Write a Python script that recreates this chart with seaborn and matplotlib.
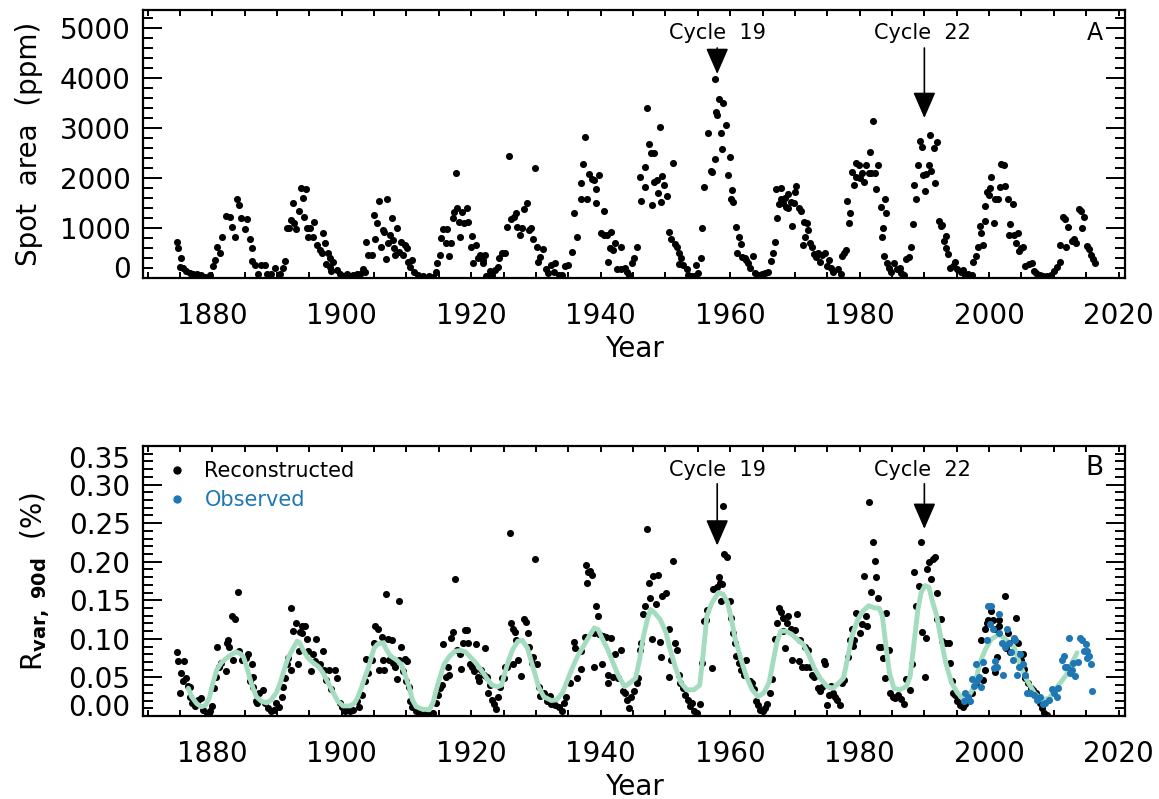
import numpy as np
import matplotlib
matplotlib.use("Agg")
import matplotlib.pyplot as plt
from matplotlib.lines import Line2D
from matplotlib.ticker import FixedLocator, MultipleLocator
import seaborn as sns

sns.set_theme(style="ticks")
plt.rcParams["font.family"] = ["DejaVu Sans"]
plt.rcParams["mathtext.fontset"] = "dejavusans"
plt.rcParams["text.color"] = "black"
plt.rcParams["axes.labelcolor"] = "black"

# ---- Panel A: sunspot area (ppm), one dot per 90-day bin ----
spot_year = [
    1874.5, 1874.7, 1875.2, 1875.0, 1875.5, 1876.0, 1876.5, 1877.0, 1877.6, 1878.2, 1878.8, 1879.6,
    1880.1, 1880.4, 1880.7, 1881.2, 1881.5, 1882.1, 1882.7, 1883.0, 1883.5, 1883.8, 1884.1, 1884.5, 1885.0, 1885.4, 1885.8, 1886.2, 1886.1, 1886.6, 1887.1, 1887.6, 1888.1, 1888.4, 1889.1, 1889.7, 1890.4, 1890.9, 1891.2,
    1891.5, 1891.9, 1892.4, 1892.2, 1892.7, 1892.9, 1893.4, 1893.7, 1894.0, 1894.4, 1894.2, 1894.6, 1894.8, 1895.1, 1895.6, 1895.7, 1896.1, 1896.6, 1897.0, 1897.1, 1897.4, 1897.9, 1898.2, 1898.7, 1897.6, 1898.2, 1898.3, 1899.2, 1899.7, 1900.2, 1900.8, 1901.3, 1901.8, 1902.3, 1902.8, 1903.3, 1903.6,
    1903.8, 1904.1, 1904.6, 1905.0, 1905.2, 1905.5, 1905.8, 1906.1, 1906.3, 1906.6, 1906.8, 1907.0, 1907.2, 1907.5, 1907.8, 1907.9, 1908.1, 1908.3, 1908.6, 1908.9, 1909.2, 1909.5, 1909.8, 1910.1, 1910.3, 1910.6, 1910.9, 1911.2, 1911.8, 1912.6, 1913.5, 1914.1,
    1914.5, 1914.7, 1915.2, 1915.3, 1915.7, 1916.1, 1916.3, 1916.6, 1916.8, 1917.2, 1917.4, 1917.6, 1917.8, 1918.1, 1918.3, 1918.6, 1918.9, 1919.3, 1919.5, 1919.9, 1920.1, 1920.3, 1920.8, 1921.0, 1921.4, 1921.8, 1922.2, 1921.8, 1922.3, 1922.9, 1923.2, 1923.7,
    1924.1, 1924.3, 1924.8, 1925.2, 1925.6, 1925.9, 1926.2, 1926.6, 1926.9, 1927.1, 1927.5, 1927.8, 1928.2, 1928.6, 1928.9, 1929.2, 1929.5, 1929.8, 1930.1, 1930.3, 1930.6, 1931.1, 1931.5, 1931.8, 1932.3, 1932.8, 1933.0, 1933.5, 1934.1, 1934.5, 1934.9,
    1935.5, 1935.8, 1936.4, 1937.0, 1937.5, 1937.3, 1937.0, 1937.9, 1938.2, 1938.6, 1938.9, 1939.3, 1939.2, 1939.8, 1940.5, 1940.0, 1940.5, 1940.9, 1941.6, 1941.4, 1942.2, 1941.9, 1943.1, 1941.2, 1942.5, 1943.1, 1943.8, 1944.0, 1944.3, 1944.8, 1945.2, 1945.6,
    1946.0, 1946.3, 1946.9, 1947.2, 1946.8, 1947.4, 1947.7, 1948.3, 1947.9, 1948.3, 1948.7, 1948.9, 1949.2, 1949.5, 1949.3, 1949.8, 1950.3, 1950.6, 1951.2, 1950.9, 1951.5, 1951.8, 1952.1, 1952.4, 1952.1, 1952.7, 1953.3, 1953.5, 1954.0, 1954.4, 1954.7, 1955.0,
    1955.5, 1955.7, 1956.0, 1956.6, 1957.0, 1957.2, 1957.6, 1957.6, 1957.8, 1958.0, 1958.2, 1958.6, 1958.9, 1958.8, 1959.4, 1959.6, 1959.9, 1960.2, 1960.5, 1960.3, 1960.9, 1961.3, 1961.7, 1961.1, 1961.9, 1962.3, 1962.5, 1962.8, 1963.1, 1963.6, 1963.8, 1964.3, 1964.9, 1965.4, 1965.9,
    1966.3, 1966.6, 1966.9, 1967.2, 1967.1, 1967.5, 1967.9, 1967.8, 1968.2, 1968.4, 1968.6, 1968.9, 1969.0, 1969.4, 1969.8, 1970.1, 1970.0, 1969.5, 1970.6, 1971.0, 1971.4, 1971.8, 1972.0, 1971.5, 1971.3, 1972.3, 1972.7, 1973.0, 1973.3, 1973.6, 1973.9, 1974.2, 1974.7, 1975.3, 1975.0, 1975.6, 1975.9, 1976.6, 1977.1,
    1977.2, 1977.6, 1977.9, 1978.1, 1978.3, 1978.5, 1978.8, 1979.1, 1979.4, 1979.5, 1979.9, 1980.1, 1980.4, 1980.7, 1981.0, 1981.4, 1981.6, 1982.0, 1981.7, 1982.4, 1982.6, 1982.9, 1983.3, 1983.6, 1983.9, 1984.0, 1983.5, 1983.8, 1984.3, 1984.6, 1984.9, 1985.3, 1985.7, 1986.2, 1986.4, 1986.9,
    1987.2, 1987.6, 1988.0, 1988.2, 1988.4, 1988.7, 1989.0, 1989.3, 1989.6, 1990.1, 1990.3, 1989.8, 1990.7, 1990.9, 1991.1, 1991.5, 1991.6, 1991.9, 1992.3, 1992.5, 1992.7, 1993.0, 1993.3, 1993.3, 1993.6, 1993.9, 1994.4, 1994.8, 1995.1, 1995.6, 1996.0, 1996.3, 1996.8, 1997.3,
    1997.5, 1997.9, 1998.3, 1998.6, 1998.8, 1999.0, 1999.4, 1999.4, 1999.7, 2000.2, 2000.3, 2000.0, 2000.8, 2000.9, 2001.3, 2001.7, 2001.9, 2002.3, 2002.5, 2002.9, 2003.2, 2003.7, 2003.1, 2003.8, 2004.1, 2004.5, 2004.6, 2004.9, 2005.2, 2005.6, 2006.1, 2006.6, 2007.0, 2007.3, 2007.8, 2008.4, 2009.0, 2009.6,
    2010.0, 2010.5, 2010.9, 2011.0, 2011.4, 2011.8, 2012.2, 2011.9, 2012.8, 2013.1, 2013.4, 2013.9, 2014.2, 2014.4, 2014.7, 2015.1, 2015.4, 2015.7, 2016.1, 2016.4,
]
spot_area = [
    713, 593, 393, 227, 193, 147, 107, 80, 80, 53, 27, 53,
    240, 360, 627, 493, 827, 1240, 1227, 1027, 813, 1580, 1460, 1193, 987, 1173, 773, 593, 340, 260, 80, 260, 253, 80, 80, 207, 80, 207, 340,
    993, 993, 1493, 1160, 1107, 973, 1347, 1793, 1607, 1780, 1213, 993, 813, 993, 827, 1120, 660, 560, 493, 893, 693, 493, 407, 327, 273, 227, 147, 160, 80, 40, 80, 40, 53, 80, 80, 173, 127,
    727, 460, 460, 1260, 773, 1107, 1547, 627, 960, 927, 373, 1587, 693, 860, 1193, 760, 593, 460, 993, 527, 727, 460, 660, 593, 327, 227, 360, 127, 60, 40, 40, 27,
    127, 293, 460, 793, 973, 707, 973, 440, 693, 1193, 1327, 2107, 1393, 1127, 813, 1327, 1107, 1393, 1127, 613, 840, 293, 660, 393, 460, 360, 460, 293, 40, 147, 60, 160,
    227, 393, 493, 493, 1027, 2440, 1173, 1213, 1293, 1027, 860, 993, 1373, 1493, 960, 993, 773, 2207, 627, 327, 427, 573, 173, 93, 260, 127, 293, 60, 60, 240, 260,
    527, 1293, 813, 1573, 2827, 2280, 1893, 1573, 2080, 1973, 1960, 1773, 1493, 2060, 1347, 907, 860, 860, 927, 593, 707, 560, 613, 327, 173, 173, 193, 127, 60, 293, 393, 613,
    2013, 1547, 2213, 3393, 1813, 2680, 2507, 2507, 1460, 1927, 1960, 1707, 3027, 2040, 1527, 1860, 1640, 927, 2307, 773, 680, 627, 507, 393, 280, 260, 173, 60, 40, 40, 260, 107,
    393, 993, 1813, 2907, 2147, 2127, 2373, 3980, 3327, 3260, 3573, 2907, 3507, 2573, 3060, 2060, 2427, 1573, 1527, 1760, 1013, 827, 680, 507, 427, 393, 360, 307, 207, 440, 107, 60, 80, 107, 127,
    347, 507, 727, 1193, 1773, 1480, 1793, 1573, 1507, 1593, 1427, 1393, 1680, 1527, 1493, 1840, 1727, 1040, 1393, 1347, 1127, 1107, 960, 813, 660, 693, 613, 480, 427, 493, 327, 460, 493, 360, 240, 193, 127, 173, 80,
    440, 493, 560, 1547, 1107, 1307, 2127, 1860, 2307, 2027, 2260, 1993, 2107, 1927, 2260, 2093, 2527, 3147, 2107, 2093, 1773, 2260, 1413, 993, 1573, 1307, 827, 440, 293, 193, 127, 293, 173, 193, 107, 60,
    373, 427, 613, 1080, 1860, 1573, 2260, 2747, 2627, 1747, 2080, 2060, 2260, 2860, 2147, 2593, 1893, 2727, 1147, 1040, 1060, 747, 840, 593, 480, 193, 240, 327, 173, 127, 160, 60, 80, 60,
    327, 440, 627, 1040, 893, 660, 1147, 1440, 1727, 1793, 2027, 1660, 1093, 1573, 1573, 1827, 2280, 2260, 1840, 1573, 1080, 1480, 860, 860, 693, 893, 547, 593, 613, 240, 280, 307, 147, 107, 60, 40, 40, 60,
    147, 227, 327, 660, 1227, 1173, 1013, 627, 747, 773, 707, 1373, 1347, 993, 1213, 640, 573, 460, 373, 307,
]

# ---- Panel B: 90-day rms variability (%) ----
rec_year = [
    1874.5, 1874.7, 1875.7, 1875.0, 1875.2, 1875.5, 1876.0, 1876.3, 1876.6, 1876.5, 1876.9, 1877.3, 1877.8, 1878.3, 1878.6, 1879.2, 1879.6, 1879.9,
    1880.2, 1880.6, 1880.7, 1881.0, 1881.4, 1882.1, 1882.3, 1882.5, 1882.6, 1883.0, 1883.5, 1883.9, 1883.2, 1884.2, 1884.6, 1885.2, 1885.5, 1886.1, 1885.9, 1886.3, 1886.3, 1886.7, 1886.9, 1887.2, 1887.8, 1888.1, 1888.6, 1889.0, 1889.5, 1889.9, 1890.3,
    1890.7, 1891.0, 1891.2, 1891.6, 1891.7, 1892.1, 1892.2, 1892.5, 1892.9, 1893.3, 1893.4, 1893.5, 1893.9, 1893.8, 1894.3, 1894.6, 1894.8, 1895.2, 1895.5, 1895.8, 1896.0, 1896.6, 1897.1, 1897.2, 1897.6, 1898.1, 1898.4, 1898.9, 1899.3, 1899.7, 1900.1, 1900.5, 1901.0, 1901.3, 1901.8, 1902.4, 1902.7,
    1903.1, 1903.6, 1903.8, 1904.1, 1904.4, 1904.6, 1905.0, 1905.2, 1905.6, 1905.8, 1906.2, 1906.4, 1906.6, 1906.9, 1907.1, 1907.3, 1907.7, 1907.9, 1908.2, 1908.5, 1908.8, 1908.9, 1909.2, 1909.5, 1909.8, 1910.1, 1910.0, 1910.4, 1910.6, 1910.9, 1911.5, 1912.1, 1912.8, 1913.5, 1914.1,
    1914.5, 1914.8, 1915.2, 1915.5, 1915.7, 1916.1, 1916.4, 1916.6, 1916.9, 1917.2, 1917.5, 1917.8, 1918.2, 1918.4, 1918.7, 1919.1, 1919.3, 1919.5, 1919.8, 1920.1, 1920.4, 1920.7, 1921.0, 1921.2, 1921.5, 1922.0, 1922.2, 1922.5, 1922.9, 1922.6, 1923.2, 1923.5, 1923.8,
    1924.1, 1924.4, 1924.7, 1925.1, 1925.2, 1925.6, 1926.0, 1926.2, 1926.5, 1926.8, 1926.4, 1926.9, 1927.2, 1927.7, 1928.1, 1928.4, 1928.7, 1929.0, 1929.4, 1929.8, 1929.5, 1930.1, 1930.4, 1930.7, 1931.2, 1931.7, 1932.1, 1932.4, 1932.9, 1933.5, 1934.0, 1934.4, 1934.7, 1935.2,
    1935.8, 1936.1, 1936.4, 1936.9, 1937.0, 1937.5, 1937.7, 1938.0, 1937.9, 1938.4, 1938.7, 1938.9, 1939.0, 1939.3, 1939.6, 1939.8, 1940.2, 1940.4, 1940.8, 1941.1, 1941.2, 1941.6, 1941.9, 1942.2, 1942.7, 1943.1, 1943.4, 1943.8, 1944.1, 1944.4, 1944.7, 1945.1, 1945.6,
    1945.7, 1946.0, 1946.3, 1946.6, 1946.9, 1947.2, 1947.4, 1947.6, 1947.9, 1948.1, 1948.6, 1948.9, 1949.2, 1949.5, 1949.3, 1950.1, 1950.5, 1950.8, 1950.6, 1951.2, 1951.5, 1951.8, 1952.1, 1952.2, 1952.7, 1953.0, 1953.5, 1953.8, 1954.1, 1954.4, 1954.9, 1955.3,
    1955.6, 1955.9, 1956.2, 1956.4, 1957.2, 1957.4, 1957.9, 1958.2, 1958.5, 1958.8, 1958.6, 1958.9, 1959.1, 1959.5, 1959.9, 1960.2, 1960.5, 1960.7, 1960.9, 1961.3, 1961.7, 1962.1, 1962.5, 1963.0, 1963.4, 1963.7, 1964.0, 1964.3, 1964.6, 1965.0, 1965.4, 1965.7, 1966.1,
    1966.5, 1966.9, 1967.2, 1967.5, 1967.8, 1968.1, 1968.2, 1968.5, 1968.8, 1969.0, 1969.4, 1969.6, 1970.0, 1970.4, 1970.6, 1970.8, 1971.1, 1971.5, 1971.7, 1972.1, 1972.4, 1972.7, 1973.0, 1973.5, 1973.9, 1974.2, 1974.5, 1974.7, 1975.0, 1975.3, 1975.6, 1975.9, 1976.2, 1976.5, 1977.0,
    1977.2, 1977.6, 1978.2, 1978.5, 1978.8, 1978.9, 1979.1, 1979.4, 1980.0, 1980.3, 1980.7, 1981.0, 1981.2, 1981.5, 1981.7, 1982.0, 1982.3, 1982.6, 1982.9, 1983.0, 1983.3, 1983.6, 1983.9, 1984.1, 1984.5, 1984.7, 1985.1, 1985.5, 1985.9, 1986.4, 1986.8,
    1987.2, 1987.8, 1988.1, 1988.4, 1988.7, 1989.1, 1989.5, 1989.7, 1990.1, 1990.3, 1990.4, 1990.7, 1991.1, 1991.3, 1991.7, 1991.9, 1992.0, 1992.5, 1992.7, 1993.3, 1993.8, 1993.9, 1994.2, 1994.5, 1994.8, 1995.1, 1995.5, 1995.9, 1996.3, 1996.8,
    1997.4, 1997.9, 1998.3, 1998.7, 1999.0, 1999.3, 1999.4, 1999.6, 1999.8, 2000.2, 2000.3, 2000.6, 2000.9, 2001.2, 2001.5, 2001.6, 2000.9, 2002.5, 2002.6, 2002.9, 2003.3, 2003.8, 2004.1, 2004.4, 2004.6, 2004.9, 2005.2, 2005.4, 2005.6, 2006.0, 2006.4, 2006.8, 2007.3, 2007.5, 2007.8, 2008.1, 2008.5, 2008.9,
]
rec_rvar = [
    .083, .071, .071, .030, .056, .045, .049, .039, .038, .025, .017, .013, .021, .023, .008, .004, .006, .013,
    .036, .051, .090, .064, .069, .058, .095, .098, .090, .130, .126, .161, .073, .084, .073, .075, .080, .067, .045, .050, .038, .020, .017, .030, .034, .017, .010, .006, .008, .017, .012,
    .025, .038, .049, .067, .075, .060, .140, .110, .120, .067, .084, .109, .117, .107, .117, .100, .084, .058, .081, .071, .100, .068, .084, .059, .047, .059, .035, .060, .049, .017, .012, .007, .012, .006, .008, .019, .012,
    .027, .046, .074, .056, .073, .073, .095, .117, .113, .060, .103, .073, .060, .158, .100, .073, .099, .069, .064, .048, .149, .072, .090, .058, .074, .071, .046, .038, .020, .012, .007, .003, .003, .001, .004,
    .017, .027, .036, .040, .093, .051, .064, .053, .101, .109, .177, .086, .080, .061, .095, .112, .112, .095, .067, .064, .058, .093, .051, .045, .060, .053, .088, .050, .040, .030, .021, .016, .009,
    .025, .037, .049, .049, .064, .064, .237, .121, .113, .109, .067, .099, .073, .052, .126, .122, .107, .090, .069, .203, .077, .067, .038, .026, .030, .020, .026, .016, .014, .012, .006, .017, .025, .043,
    .096, .088, .049, .061, .084, .103, .196, .187, .172, .188, .183, .107, .064, .143, .130, .106, .067, .104, .103, .053, .043, .101, .051, .081, .049, .086, .032, .030, .021, .010, .025, .032, .043,
    .049, .086, .095, .132, .143, .242, .172, .153, .100, .182, .145, .183, .096, .156, .077, .159, .113, .073, .051, .201, .095, .086, .053, .043, .036, .027, .021, .013, .017, .007, .004, .016,
    .069, .123, .125, .138, .062, .164, .167, .180, .172, .171, .149, .272, .210, .206, .149, .127, .107, .095, .078, .069, .059, .053, .073, .045, .043, .035, .019, .014, .008, .006, .010, .016, .030,
    .048, .100, .121, .140, .135, .127, .110, .088, .120, .130, .113, .073, .111, .132, .071, .098, .063, .090, .064, .085, .063, .053, .050, .036, .032, .038, .071, .067, .014, .027, .039, .030, .025, .021, .014,
    .043, .047, .077, .098, .113, .091, .099, .134, .107, .119, .181, .130, .117, .277, .161, .226, .201, .180, .153, .090, .090, .075, .049, .134, .085, .030, .025, .023, .027, .022, .016,
    .048, .034, .067, .187, .143, .169, .226, .109, .051, .101, .191, .200, .177, .203, .206, .160, .126, .126, .097, .094, .095, .069, .045, .030, .027, .020, .014, .012, .016, .020,
    .030, .043, .067, .098, .047, .060, .113, .121, .125, .121, .136, .124, .113, .077, .125, .117, .057, .155, .088, .107, .083, .098, .127, .095, .081, .073, .081, .061, .049, .043, .036, .034, .030, .025, .017, .010, .004, .001,
]

obs_year = [
    1996.3, 1996.7, 1996.1, 1997.0, 1997.3, 1997.6, 1997.9, 1998.1, 1998.5, 1998.7, 1999.1, 1999.6, 1999.8, 2000.1, 2000.3, 2000.6,
    2000.7, 2000.9, 2001.2, 2001.5, 2001.6, 2002.0, 2002.2, 2002.5, 2002.7, 2003.0, 2003.4, 2003.7, 2003.8, 2004.0, 2004.3, 2004.6,
    2004.8, 2005.3, 2005.6, 2005.8, 2006.3, 2007.0, 2007.4, 2007.8, 2008.3, 2008.7, 2009.2, 2009.7, 2010.0, 2010.5, 2010.7, 2011.2,
    2011.5, 2011.8, 2012.0, 2012.3, 2012.5, 2012.8, 2013.0, 2013.3, 2013.7, 2014.0, 2014.3, 2014.6, 2014.9, 2015.1, 2015.2, 2015.5,
    2015.7, 2015.9,
]
obs_rvar = [
    .030, .025, .020, .019, .048, .039, .067, .045, .051, .038, .070, .099, .142, .119, .142, .113,
    .062, .071, .064, .107, .132, .095, .053, .090, .113, .095, .083, .073, .101, .098, .053, .064,
    .081, .067, .053, .030, .030, .027, .021, .025, .016, .017, .021, .035, .030, .025, .036, .072,
    .078, .063, .064, .101, .056, .060, .069, .052, .070, .101, .098, .084, .093, .084, .075, .078,
    .068, .033,
]

# smoothed (running mean) curve
smooth_year = [
    1876.3, 1876.8, 1877.6, 1878.3, 1879.0, 1879.6, 1880.1, 1880.7, 1881.4, 1882.2, 1883.0, 1883.7, 1884.3, 1884.8, 1885.3, 1885.8,
    1886.3, 1886.8, 1887.6, 1888.4, 1889.1, 1889.9, 1890.5, 1891.1, 1891.7, 1892.5, 1893.1, 1893.5, 1894.0, 1894.8, 1895.6, 1896.4,
    1897.1, 1897.9, 1898.7, 1899.4, 1900.2, 1901.3, 1902.0, 1902.5, 1903.1, 1903.6, 1904.1, 1904.6, 1905.0, 1905.5, 1906.4, 1906.9,
    1907.5, 1908.4, 1909.2, 1909.8, 1910.4, 1910.9, 1911.5, 1912.4, 1913.5, 1914.1, 1914.6, 1915.2, 1915.8, 1916.6, 1917.5, 1918.4,
    1919.1, 1919.8, 1920.7, 1921.5, 1922.4, 1923.2, 1924.1, 1924.7, 1925.2, 1925.8, 1926.4, 1927.2, 1927.9, 1928.7, 1929.2, 1929.8,
    1930.4, 1931.2, 1932.4, 1933.2, 1934.1, 1934.9, 1935.5, 1936.4, 1937.3, 1938.2, 1939.0, 1939.6, 1940.2, 1941.1, 1941.9, 1942.8,
    1943.7, 1944.5, 1945.4, 1946.0, 1946.6, 1947.2, 1947.7, 1948.3, 1949.2, 1950.1, 1950.6, 1951.5, 1952.4, 1953.3, 1954.4, 1955.3,
    1955.9, 1956.4, 1957.2, 1958.2, 1958.9, 1959.6, 1960.2, 1960.8, 1961.7, 1962.5, 1963.4, 1964.3, 1965.2, 1966.0, 1966.6, 1967.2,
    1967.8, 1968.6, 1969.5, 1970.4, 1971.3, 1972.1, 1973.0, 1973.9, 1975.0, 1975.9, 1976.8, 1977.5, 1978.1, 1978.8, 1979.7, 1980.5,
    1981.4, 1982.3, 1983.0, 1983.5, 1984.0, 1984.6, 1985.3, 1986.2, 1987.2, 1987.8, 1988.4, 1989.0, 1989.5, 1990.1, 1990.7, 1991.3,
    1991.9, 1992.5, 1993.3, 1994.2, 1995.1, 1995.9, 1996.8, 1997.7, 1998.6, 1999.4, 2000.3, 2001.5, 2002.6, 2003.8, 2004.9, 2005.8,
    2007.0, 2008.1, 2009.3, 2010.2, 2011.0, 2011.9, 2012.8, 2013.6,
]
smooth_rvar = [
    .036, .025, .016, .012, .014, .025, .043, .060, .069, .075, .080, .083, .081, .077, .064, .049,
    .036, .025, .019, .017, .021, .030, .043, .060, .075, .088, .097, .095, .086, .075, .069, .064,
    .056, .043, .030, .019, .013, .013, .017, .025, .038, .051, .062, .077, .088, .093, .095, .086,
    .078, .073, .067, .053, .038, .021, .012, .009, .008, .017, .034, .051, .067, .077, .084, .085,
    .083, .077, .069, .060, .049, .040, .038, .040, .056, .073, .086, .097, .098, .088, .073, .056,
    .038, .025, .020, .021, .030, .047, .060, .077, .090, .103, .114, .112, .101, .086, .069, .051,
    .038, .043, .049, .073, .103, .125, .138, .134, .125, .108, .090, .064, .043, .034, .034, .040,
    .086, .130, .147, .160, .158, .147, .125, .099, .073, .051, .034, .025, .030, .043, .069, .095,
    .110, .110, .106, .099, .093, .080, .062, .049, .038, .036, .043, .049, .073, .103, .125, .136,
    .143, .140, .140, .130, .095, .056, .036, .034, .038, .051, .095, .138, .160, .169, .167, .147,
    .130, .103, .069, .043, .030, .023, .025, .038, .069, .086, .099, .106, .099, .090, .064, .047,
    .030, .021, .023, .034, .043, .053, .069, .082,
]

assert len(spot_year) == len(spot_area)
assert len(rec_year) == len(rec_rvar)
assert len(obs_year) == len(obs_rvar)
assert len(smooth_year) == len(smooth_rvar)

green = "#a3dcbf"
blue = "#1f78b4"

fig = plt.figure(figsize=(11.59, 7.99), dpi=100)
ax1 = fig.add_axes([0.1234, 0.6521, 0.8473, 0.3354])
ax2 = fig.add_axes([0.1234, 0.1039, 0.8473, 0.3379])

sns.scatterplot(x=spot_year, y=spot_area, color="black", s=26, linewidth=0, ax=ax1)

sns.scatterplot(x=rec_year, y=rec_rvar, color="black", s=26, linewidth=0, ax=ax2)
sns.lineplot(x=smooth_year, y=smooth_rvar, color=green, linewidth=3.5, sort=False,
             estimator=None, ax=ax2)
sns.scatterplot(x=obs_year, y=obs_rvar, color=blue, s=26, linewidth=0, ax=ax2, zorder=3)


def style_axes(ax, ymax, ymajor, yminor, yfmt):
    ax.set_xlim(1869.3, 2021.0)
    ax.set_ylim(0, ymax)
    ax.xaxis.set_major_locator(FixedLocator([1880, 1900, 1920, 1940, 1960, 1980, 2000, 2020]))
    ax.xaxis.set_minor_locator(MultipleLocator(5))
    ax.yaxis.set_major_locator(MultipleLocator(ymajor))
    ax.yaxis.set_minor_locator(MultipleLocator(yminor))
    ax.yaxis.set_major_formatter(yfmt)
    for s in ax.spines.values():
        s.set_linewidth(1.6)
        s.set_color("black")
    ax.tick_params(axis="both", which="both", direction="in", colors="black",
                   top=True, right=True, width=1.4)
    ax.tick_params(axis="x", which="major", length=4, pad=17, labelsize=20)
    ax.tick_params(axis="x", which="minor", length=4)
    ax.tick_params(axis="y", which="major", length=14, pad=9, labelsize=20)
    ax.tick_params(axis="y", which="minor", length=7.5)
    ax.set_xlabel("Year", fontsize=20, labelpad=4)
    ax.grid(False)


style_axes(ax1, 5360, 1000, 200, lambda v, p: f"{v:.0f}")
style_axes(ax2, 0.35, 0.05, 0.01, lambda v, p: f"{v:.2f}")
ax2.set_ylim(0, 0.35)

ax1.set_ylabel("Spot  area  (ppm)", fontsize=20, labelpad=12)
ax2.set_ylabel(r"R$_{\mathbf{var,\ 90d}}$  (%)", fontsize=20, labelpad=12)

# edge tick labels are pushed inside the frame, as in the original
fig.canvas.draw()
for t in ax1.yaxis.get_major_ticks():
    if abs(t.get_loc()) < 1e-9:
        t.label1.set_va("baseline")
for t in ax2.yaxis.get_major_ticks():
    if abs(t.get_loc()) < 1e-9:
        t.label1.set_va("baseline")
    elif abs(t.get_loc() - 0.35) < 1e-6:
        t.label1.set_va("top")

# cycle annotations
arrow_kw = dict(arrowstyle="-|>,head_length=1.15,head_width=0.5", color="black",
                lw=1.2, shrinkA=0, shrinkB=0, mutation_scale=14)
ax1.annotate("", xy=(1958.0, 4080), xytext=(1958.0, 4600), arrowprops=arrow_kw)
ax1.annotate("", xy=(1990.0, 3200), xytext=(1990.0, 4600), arrowprops=arrow_kw)
ax1.text(1958.0, 4900, "Cycle  19", ha="center", va="center", fontsize=15)
ax1.text(1989.7, 4900, "Cycle  22", ha="center", va="center", fontsize=15)
ax1.text(2016.3, 4900, "A", ha="center", va="center", fontsize=17)

ax2.annotate("", xy=(1958.0, 0.221), xytext=(1958.0, 0.301), arrowprops=arrow_kw)
ax2.annotate("", xy=(1990.0, 0.2426), xytext=(1990.0, 0.301), arrowprops=arrow_kw)
ax2.text(1958.0, 0.3187, "Cycle  19", ha="center", va="center", fontsize=15)
ax2.text(1989.7, 0.3187, "Cycle  22", ha="center", va="center", fontsize=15)
ax2.text(2016.3, 0.322, "B", ha="center", va="center", fontsize=19)

handles = [
    Line2D([], [], marker="o", linestyle="none", color="black", markersize=5),
    Line2D([], [], marker="o", linestyle="none", color=blue, markersize=5),
]
ax2.legend(handles, ["Reconstructed", "Observed"], loc="upper left",
           bbox_to_anchor=(0.018, 0.975), frameon=False, fontsize=15,
           handlelength=0.8, handletextpad=0.9, labelspacing=0.45,
           borderaxespad=0, labelcolor=["black", blue])

fig.savefig("out.png", dpi=100)
